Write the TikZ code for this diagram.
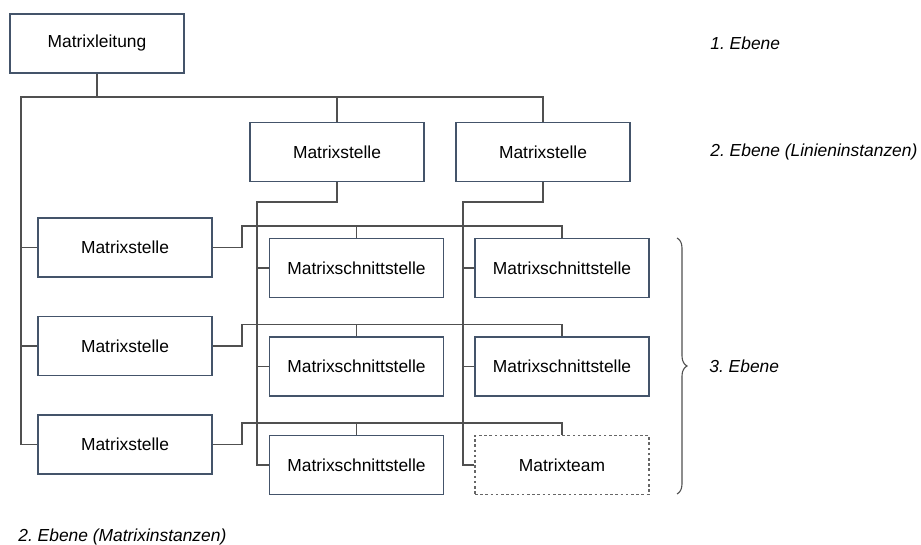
\documentclass[tikz,border=0pt]{standalone}
\usepackage{fontspec}
\setmainfont{Liberation Sans}
\usepackage{tikz}
\usetikzlibrary{decorations.pathreplacing}
\definecolor{boxblue}{RGB}{68,84,106}
\definecolor{wiregray}{RGB}{80,80,80}
\frenchspacing

\begin{document}
\begin{tikzpicture}[x=0.5pt, y=-0.5pt,
    unit/.style={draw=boxblue, line width=0.6pt, minimum width=87pt, minimum height=29.5pt,
        inner sep=0pt, font=\fontsize{8.7}{10}\selectfont},
    team/.style={unit, draw=black!60, dash pattern=on 1.3pt off 1.3pt},
    link/.style={color=wiregray, line width=0.55pt},
    level/.style={anchor=west, inner sep=0pt, font=\fontsize{8.7}{10}\selectfont\itshape}]
    \useasboundingbox (0,0) rectangle (921,545);

    % Matrix head and line instances
    \node[unit] (ml) at (97,43.5) {Matrixleitung};
    \node[unit] (ms1) at (337,152) {Matrixstelle};
    \node[unit] (ms2) at (543,152) {Matrixstelle};

    % Matrix instances and interfaces, row by row
    \foreach \r/\y in {1/268,2/366.5,3/465} {
        \node[unit] (mi\r) at (125,\y-20.5) {Matrixstelle};
        \node[unit] (sa\r) at (356.5,\y) {Matrixschnittstelle};
        \coordinate (bar\r) at (242,\y-42);
    }
    \node[unit] (sb1) at (562,268) {Matrixschnittstelle};
    \node[unit] (sb2) at (562,366.5) {Matrixschnittstelle};
    \node[team] (sb3) at (562,465) {Matrixteam};

    % Trunk lines
    \coordinate (top) at (97,97);
    \coordinate (trunk) at (21,97);
    \coordinate (va) at (257,202);
    \coordinate (vb) at (463,202);
    \draw[link] (ml.south) -- (top) -| (ms1.north);
    \draw[link] (top) -| (ms2.north);
    \draw[link] (top) -- (trunk) |- (mi3.west);
    \draw[link] (ms1.south) |- (va) |- (sa3.west);
    \draw[link] (ms2.south) |- (vb) |- (sb3.west);

    % Branches
    \foreach \r in {1,2,3} {
        \draw[link] (trunk |- mi\r.west) -- (mi\r.west);
        \draw[link] (mi\r.east) -| (bar\r) -| (sb\r.north);
        \draw[link] (sa\r.north) -- (sa\r.north |- bar\r);
        \draw[link] (va |- sa\r.west) -- (sa\r.west);
        \draw[link] (vb |- sb\r.west) -- (sb\r.west);
    }

    % Level labels
    \draw[link, decorate, decoration={brace, amplitude=5pt}] (677,238) -- (677,494);
    \node[level] (lvl1) at (710,43) {1. Ebene};
    \node[level] (lvl2) at (710,152) {2. Ebene (Linieninstanzen)};
    \node[level] (lvl3) at (709,366) {3. Ebene};
    \node[level] (lvl4) at (18,537) {2. Ebene (Matrixinstanzen)};
\end{tikzpicture}
\end{document}
